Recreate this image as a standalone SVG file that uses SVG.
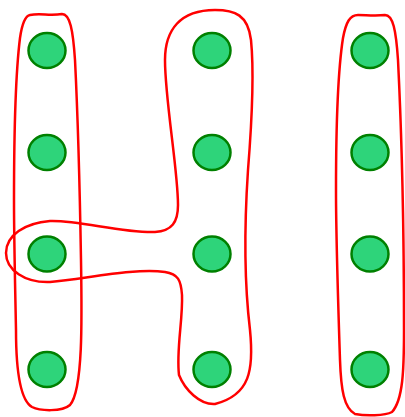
<svg xmlns="http://www.w3.org/2000/svg" width="405" height="417" viewBox="0 0 405 417">
<style>
.n{fill:#2ed47a;stroke:#008000;stroke-width:2.5}
.h{fill:none;stroke:#ff0000;stroke-width:2.5}
</style>
<rect width="405" height="417" fill="#fff"/>
<g id="hulls">
<path class="h" d="M30,15 C40,13 50,16 62,14 C70,14 73,30 75,60 C78,120 80,200 81,260 C82,320 83,390 70,405 C62,412 40,411 32,407 C20,400 16,370 16,330 C15,280 14,240 14,200 C14,130 16,70 20,38 C22,24 25,16 30,15 Z"/>
<path class="h" d="M215,10 C235,10 248,15 251,40 C254,70 252,120 248,170 C244,230 244,280 250,330 C254,370 250,395 215,404 C200,405 185,390 179,375 C176,350 183,320 182,295 C181,280 178,274 165,272 C135,268 90,278 50,282 C25,283 6,270 6,253 C6,235 25,223 50,221 C80,220 120,233 155,232 C172,231 178,222 178,205 C178,170 165,100 165,60 C165,30 180,10 215,10 Z"/>
<path class="h" d="M358,15 C366,15 375,16 385,15 C393,15 396,30 398,60 C402,140 404,250 404,330 C404,370 403,400 392,412 C385,416 365,416 355,414 C344,408 341,390 340,360 C338,300 336,240 336,190 C336,130 338,70 343,38 C346,22 350,15 358,15 Z"/>
</g>
<g id="n1"><ellipse class="n" cx="47" cy="50.5" rx="18.5" ry="17.5"/></g>
<g id="n2"><ellipse class="n" cx="47" cy="152.5" rx="18.5" ry="17.5"/></g>
<g id="n3"><ellipse class="n" cx="47" cy="254" rx="18.5" ry="17.5"/></g>
<g id="n4"><ellipse class="n" cx="47" cy="369.5" rx="18.5" ry="17.5"/></g>
<g id="n5"><ellipse class="n" cx="212" cy="50.5" rx="18.5" ry="17.5"/></g>
<g id="n6"><ellipse class="n" cx="212" cy="152.5" rx="18.5" ry="17.5"/></g>
<g id="n7"><ellipse class="n" cx="212" cy="254" rx="18.5" ry="17.5"/></g>
<g id="n8"><ellipse class="n" cx="212" cy="369.5" rx="18.5" ry="17.5"/></g>
<g id="n9"><ellipse class="n" cx="370" cy="50.5" rx="18.5" ry="17.5"/></g>
<g id="n10"><ellipse class="n" cx="370" cy="152.5" rx="18.5" ry="17.5"/></g>
<g id="n11"><ellipse class="n" cx="370" cy="254" rx="18.5" ry="17.5"/></g>
<g id="n12"><ellipse class="n" cx="370" cy="369.5" rx="18.5" ry="17.5"/></g>
</svg>
